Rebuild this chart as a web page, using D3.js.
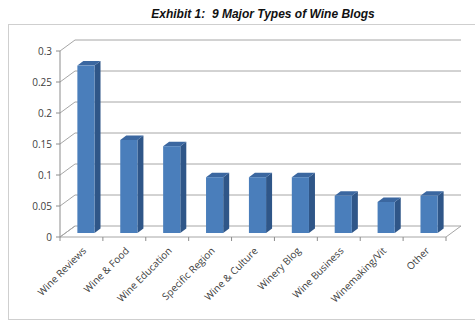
<!DOCTYPE html>
<html>
<head>
<meta charset="utf-8">
<script src="https://cdn.jsdelivr.net/npm/d3@7"></script>
<style>
  body { margin: 0; background: #fff; }
  svg { display: block; }
</style>
</head>
<body>
<svg id="chart"></svg>
<script>
const categories = ['Wine Reviews', 'Wine & Food', 'Wine Education', 'Specific Region',
    'Wine & Culture', 'Winery Blog', 'Wine Business', 'Winemaking/Vit', 'Other'];
const shares = [0.27, 0.15, 0.14, 0.09, 0.09, 0.09, 0.06, 0.05, 0.06];
const yTicks = [0, 0.05, 0.1, 0.15, 0.2, 0.25, 0.3];
const tickLabels = ['0', '0.05', '0.1', '0.15', '0.2', '0.25', '0.3'];

const width = 475, height = 322;
const depth = { dx: 15, dy: -11 };     // floor / wall depth
const barPlane = { dx: 4.5, dy: -4 };  // where bar front faces sit
const barDepth = { dx: 6, dy: -4.5 };

const svg = d3.select('#chart').attr('width', width).attr('height', height);

// outer frame
svg.append('rect')
    .attr('x', 8.5).attr('y', 24.5)
    .attr('width', 480).attr('height', 295)
    .attr('fill', 'none').attr('stroke', '#cfcfcf');

svg.append('text')
    .attr('x', 263).attr('y', 18)
    .attr('text-anchor', 'middle')
    .style('white-space', 'pre')
    .style('font', 'italic bold 12px "Liberation Sans", Arial, sans-serif')
    .style('fill', '#111')
    .text('Exhibit 1:  9 Major Types of Wine Blogs');

const x = d3.scaleBand().domain(categories).range([60, 446]).padding(0);
const y = d3.scaleLinear().domain([0, 0.3]).range([237, 51]);

const grid = svg.append('g').attr('stroke', '#a6a6a6').attr('fill', 'none');

// back wall gridlines + side wall diagonals
yTicks.forEach(t => {
    const yy = y(t);
    grid.append('line')
        .attr('x1', 60).attr('y1', yy)
        .attr('x2', 60 + depth.dx).attr('y2', yy + depth.dy);
    if (t > 0) {
        grid.append('line')
            .attr('x1', 60 + depth.dx).attr('y1', yy + depth.dy)
            .attr('x2', 446 + depth.dx).attr('y2', yy + depth.dy);
    }
});

// floor
const floor = [
    [60, y(0)], [60 + depth.dx, y(0) + depth.dy],
    [446 + depth.dx, y(0) + depth.dy], [446, y(0)]
];
grid.append('path')
    .attr('d', d3.line()(floor) + 'Z')
    .attr('stroke', '#a6a6a6');

// y axis
svg.append('line')
    .attr('x1', 60).attr('y1', y(0.3)).attr('x2', 60).attr('y2', y(0))
    .attr('stroke', '#8c8c8c');

const yAxis = svg.append('g');
yTicks.forEach((t, i) => {
    yAxis.append('line')
        .attr('x1', 56).attr('x2', 60)
        .attr('y1', y(t)).attr('y2', y(t))
        .attr('stroke', '#8c8c8c');
    yAxis.append('text')
        .attr('x', 52).attr('y', y(t))
        .attr('dy', '0.35em')
        .attr('text-anchor', 'end')
        .style('font', '10px "Open Sans", sans-serif')
        .style('fill', '#404040')
        .text(tickLabels[i]);
});

// category ticks on the front floor edge
const xb = categories.map(c => x(c)).concat([446]);
xb.forEach(v => {
    svg.append('line')
        .attr('x1', v).attr('x2', v)
        .attr('y1', y(0)).attr('y2', y(0) + 4)
        .attr('stroke', '#8c8c8c');
});

// bars
const faceW = x.bandwidth() * 0.4;
const bars = svg.append('g').selectAll('g.bar')
    .data(categories.map((c, i) => ({ name: c, value: shares[i] })))
    .join('g')
    .attr('class', 'bar');

const geom = d => {
    const left = x(d.name) + x.bandwidth() / 2 - faceW / 2 + barPlane.dx;
    const right = left + faceW;
    const top = y(d.value) + barPlane.dy;
    const bottom = y(0) + barPlane.dy;
    return { left, right, top, bottom };
};

bars.append('path')
    .attr('fill', '#2f5688')
    .attr('d', d => {
        const g = geom(d);
        return d3.line()([[g.right, g.top], [g.right + barDepth.dx, g.top + barDepth.dy],
            [g.right + barDepth.dx, g.bottom + barDepth.dy], [g.right, g.bottom]]) + 'Z';
    });

bars.append('path')
    .attr('fill', '#3b67a0')
    .attr('d', d => {
        const g = geom(d);
        return d3.line()([[g.left, g.top], [g.left + barDepth.dx, g.top + barDepth.dy],
            [g.right + barDepth.dx, g.top + barDepth.dy], [g.right, g.top]]) + 'Z';
    });

bars.append('rect')
    .attr('fill', '#4a7ebb')
    .attr('x', d => geom(d).left)
    .attr('y', d => geom(d).top)
    .attr('width', faceW)
    .attr('height', d => geom(d).bottom - geom(d).top);

// rotated category labels
svg.append('g').selectAll('text')
    .data(categories)
    .join('text')
    .attr('transform', d => `translate(${x(d) + x.bandwidth() / 2 + 3},${y(0) + 12}) rotate(-45)`)
    .attr('text-anchor', 'end')
    .attr('dy', '0.35em')
    .style('font', '10px "Open Sans", sans-serif')
    .style('fill', '#404040')
    .text(d => d);
</script>
</body>
</html>
